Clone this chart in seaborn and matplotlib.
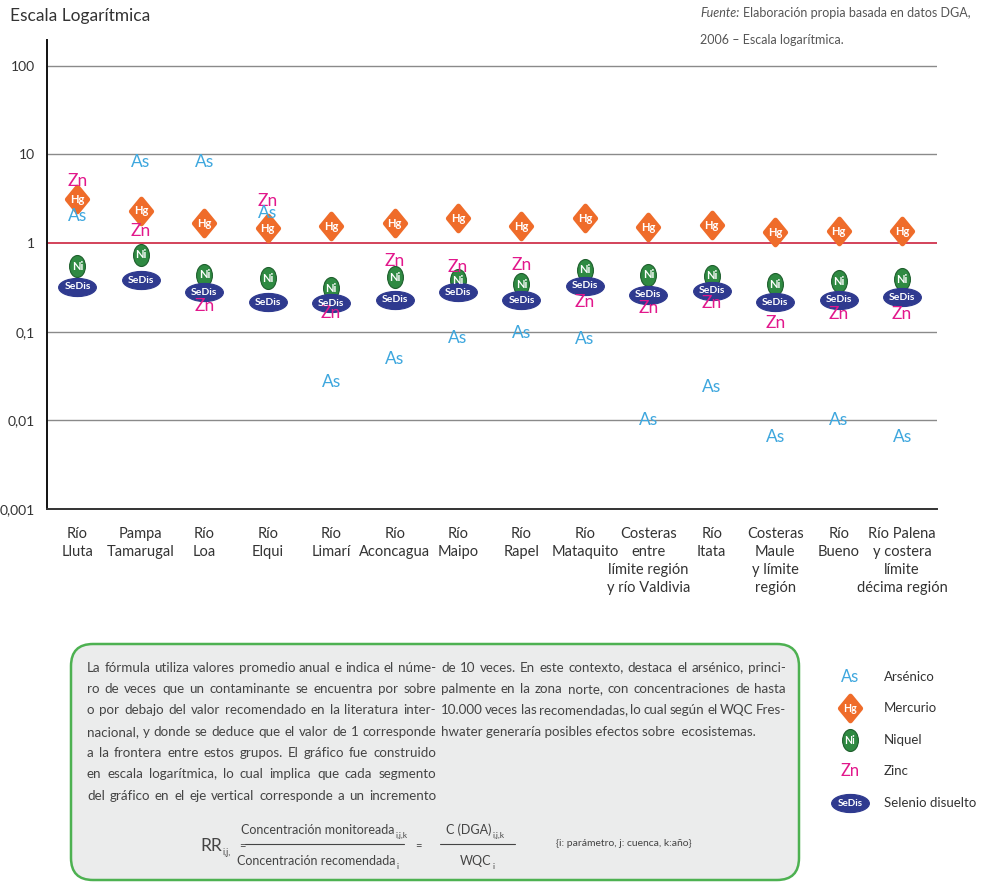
import numpy as np
import pandas as pd
import matplotlib
matplotlib.use("Agg")
import matplotlib.pyplot as plt
import seaborn as sns
from matplotlib.path import Path
from matplotlib.patches import FancyBboxPatch
from matplotlib.font_manager import FontProperties

# ---- data -------------------------------------------------------------
rios = ["Río\nLluta", "Pampa\nTamarugal", "Río\nLoa", "Río\nElqui", "Río\nLimarí",
        "Río\nAconcagua", "Río\nMaipo", "Río\nRapel", "Río\nMataquito",
        "Costeras\nentre\nlímite región\ny río Valdivia", "Río\nItata",
        "Costeras\nMaule\ny límite\nregión", "Río\nBueno",
        "Río Palena\ny costera\nlímite\ndécima región"]

arsenico = [2.0, 8.3, 8.3, 2.2, 0.027, 0.049, 0.085, 0.097, 0.083, 0.010, 0.024, 0.0065, 0.010, 0.0065]
mercurio = [3.1, 2.3, 1.68, 1.47, 1.55, 1.68, 1.9, 1.55, 1.9, 1.51, 1.59, 1.33, 1.36, 1.36]
niquel = [0.55, 0.74, 0.44, 0.40, 0.31, 0.41, 0.38, 0.345, 0.50, 0.44, 0.43, 0.345, 0.37, 0.39]
zinc = [5.0, 1.36, 0.195, 3.0, 0.164, 0.63, 0.53, 0.57, 0.215, 0.186, 0.21, 0.125, 0.16, 0.16]
selenio = [0.32, 0.38, 0.28, 0.215, 0.21, 0.23, 0.28, 0.226, 0.33, 0.26, 0.29, 0.215, 0.23, 0.245]

y_ticks = [0.001, 0.01, 0.1, 1, 10, 100]
y_ticklabels = ["0,001", "0,01", "0,1", "1", "10", "100"]

simbolos = ["As", "Hg", "Ni", "Zn", "SeDis"]
nombres = ["Arsénico", "Mercurio", "Niquel", "Zinc", "Selenio disuelto"]

# ---- styling ------------------------------------------------------------
sns.set_style("white")
FONT = "Lato"
plt.rcParams["font.family"] = [FONT, "DejaVu Sans"]

C_AS = "#3ea7de"
C_HG = "#ef6c2a"
C_NI = "#2f8a42"
C_ZN = "#e2188c"
C_SE = "#2f3a8f"
TXT = "#333333"


def ellipse(w, h):
    c = Path.unit_circle()
    return Path(c.vertices * np.array([w, h]), c.codes)


diamond = Path([(0, 1), (0.82, 0), (0, -1), (-0.82, 0), (0, 1)],
               [Path.MOVETO, Path.LINETO, Path.LINETO, Path.LINETO, Path.CLOSEPOLY])
ni_shape = ellipse(0.72, 1.0)
se_shape = ellipse(1.0, 0.48)

W, H = 982, 884
fig = plt.figure(figsize=(W / 100, H / 100), dpi=100)
ax = fig.add_axes([47 / W, 1 - 509 / H, (937 - 47) / W, (509 - 40) / H])
renderer = fig.canvas.get_renderer()


def text_width(s, size, style="normal"):
    fp = FontProperties(family=[FONT, "DejaVu Sans"], size=size, style=style)
    w, _, _ = renderer.get_text_width_height_descent(s, fp, ismath=False)
    return w


pos = np.arange(len(rios))
df = pd.DataFrame({
    "pos": np.tile(pos, 5),
    "elemento": np.repeat(simbolos, len(rios)),
    "valor": arsenico + mercurio + niquel + zinc + selenio,
})

ax.set_yscale("log")
ax.set_ylim(0.001, 195)
ax.set_xlim(-0.48, 13.55)

# reference lines
for t in [0.01, 0.1, 10, 100]:
    ax.axhline(t, color="#8a8a8a", lw=1.0, zorder=1)
ax.axhline(1, color="#c8102e", lw=1.1, zorder=1)


def draw_label(axis, x, y, sym, size_scale=1.0):
    """Write the element symbol at data position (x, y)."""
    if sym == "As":
        axis.text(x, y, "As", color=C_AS, fontsize=12.5 * size_scale, ha="center", va="center", zorder=6)
    elif sym == "Zn":
        axis.text(x, y, "Zn", color=C_ZN, fontsize=12.5 * size_scale, ha="center", va="center", zorder=5)
    elif sym == "Hg":
        axis.text(x, y, "Hg", color="white", fontsize=8 * size_scale, fontweight="bold",
                  ha="center", va="center", zorder=5)
    elif sym == "Ni":
        axis.text(x, y, "Ni", color="white", fontsize=8 * size_scale, fontweight="bold",
                  ha="center", va="center", zorder=5)
    elif sym == "SeDis":
        axis.text(x, y, "SeDis", color="white", fontsize=7.5 * size_scale, fontweight="bold",
                  ha="center", va="center", zorder=5)


# filled shapes through seaborn
shape_spec = {
    "Hg": dict(marker=diamond, s=320, color=C_HG, edgecolor=C_HG, linewidth=3.5, zorder=4),
    "Ni": dict(marker=ni_shape, s=250, color=C_NI, edgecolor="#1d5e2c", linewidth=0.8, zorder=4),
    "SeDis": dict(marker=se_shape, s=740, color=C_SE, edgecolor=C_SE, linewidth=0.8, zorder=4),
}
for sym, spec in shape_spec.items():
    sub = df[df["elemento"] == sym]
    sns.scatterplot(data=sub, x="pos", y="valor", ax=ax, legend=False, **spec)

for _, r in df.iterrows():
    draw_label(ax, r["pos"], r["valor"], r["elemento"])

# axes decoration
ax.set_yticks(y_ticks)
ax.set_yticklabels(y_ticklabels)
ax.yaxis.set_minor_locator(matplotlib.ticker.NullLocator())
ax.set_xticks(pos)
ax.set_xticklabels(rios, linespacing=1.35)
ax.tick_params(axis="y", length=0, pad=9, labelsize=10, labelcolor=TXT)
ax.tick_params(axis="x", length=0, pad=13, labelsize=10.5, labelcolor=TXT)
ax.set_xlabel("")
ax.set_ylabel("")
for side in ["top", "right"]:
    ax.spines[side].set_visible(False)
ax.spines["left"].set_color("#111111")
ax.spines["left"].set_linewidth(1.4)
ax.spines["bottom"].set_color("#333333")
ax.spines["bottom"].set_linewidth(1.4)

# overlay in pixel coordinates for headings, the note box and the key
ov = fig.add_axes([0, 0, 1, 1])
ov.set_xlim(0, W)
ov.set_ylim(H, 0)
ov.axis("off")
ov.patch.set_alpha(0)

ov.text(10, 16, "Escala Logarítmica", fontsize=12.5, color=TXT, ha="left", va="center")
SRC = dict(fontsize=9, color="#555555", ha="left", va="baseline")
ov.text(700, 17, "Fuente:", style="italic", **SRC)
ov.text(700 + text_width("Fuente:", 9, "italic") + 4, 17,
        "Elaboración propia basada en datos DGA,", **SRC)
ov.text(700, 44, "2006 – Escala logarítmica.", **SRC)

box = FancyBboxPatch((71, 644), 728, 236, boxstyle="round,pad=0,rounding_size=22",
                     facecolor="#ebecec", edgecolor="#4db151", linewidth=1.8, zorder=1)
ov.add_patch(box)

left_col = [
    "La fórmula utiliza valores promedio anual e indica el núme-",
    "ro de veces que un contaminante se encuentra por sobre",
    "o por debajo del valor recomendado en la literatura inter-",
    "nacional, y donde se deduce que el valor de 1 corresponde",
    "a la frontera entre estos grupos. El gráfico fue construido",
    "en escala logarítmica, lo cual implica que cada segmento",
    "del gráfico en el eje vertical corresponde a un incremento",
]
right_col = [
    "de 10 veces. En este contexto, destaca el arsénico, princi-",
    "palmente en la zona norte, con concentraciones de hasta",
    "10.000 veces las recomendadas, lo cual según el WQC Fres-",
    "hwater generaría posibles efectos sobre  ecosistemas.",
]

BODY_SIZE = 9.6
BODY = dict(fontsize=BODY_SIZE, color="#444444", va="baseline", ha="left", zorder=2)


def justified(x0, x1, y, line, last=False):
    words = line.split()
    base = y + 4.5
    if last or len(words) == 1:
        ov.text(x0, base, line, **BODY)
        return
    widths = [text_width(w, BODY_SIZE) for w in words]
    gap = (x1 - x0 - sum(widths)) / (len(words) - 1)
    x = x0
    for w, wd in zip(words, widths):
        ov.text(x, base, w, **BODY)
        x += wd + gap


for i, line in enumerate(left_col):
    justified(87, 436, 667 + i * 21.4, line)
for i, line in enumerate(right_col):
    justified(441, 786, 667 + i * 21.4, line, last=(i == len(right_col) - 1))


# formula: main text plus a lowered small index
def with_index(x, y, main, idx, size, sub_size, align="left"):
    wm = text_width(main, size)
    wi = text_width(idx, sub_size)
    if align == "center":
        x = x - (wm + 1 + wi) / 2
    ov.text(x, y, main, fontsize=size, color=fc, ha="left", va="baseline", zorder=2)
    ov.text(x + wm + 1, y + 4, idx, fontsize=sub_size, color=fc, ha="left", va="baseline", zorder=2)


fc = "#444444"
with_index(200, 851, "RR", "i,j,", 12.5, 6.5)
ov.text(239, 849, "=", fontsize=8, color=fc, ha="left", va="baseline", zorder=2)
with_index(324, 834, "Concentración monitoreada", "i,j,k", 9, 6, align="center")
ov.plot([245, 404], [844, 844], color=fc, lw=0.8, zorder=2)
with_index(318, 865, "Concentración recomendada", "i", 9, 6, align="center")
ov.text(415, 849, "=", fontsize=8, color=fc, ha="left", va="baseline", zorder=2)
with_index(475, 834, "C (DGA)", "i,j,k", 9, 6, align="center")
ov.plot([440, 515], [844, 844], color=fc, lw=0.8, zorder=2)
with_index(477, 865, "WQC", "i", 9, 6, align="center")
ov.text(556, 843, "{i: parámetro, j: cuenca, k:año}", fontsize=7.5, color=fc, ha="left", va="center", zorder=2)

# key
key_y = [677, 708, 740, 771, 803]
key = pd.DataFrame({"x": [850] * 5, "y": key_y, "elemento": simbolos, "nombre": nombres})
for sym, spec in shape_spec.items():
    sub = key[key["elemento"] == sym]
    sns.scatterplot(data=sub, x="x", y="y", ax=ov, legend=False, **spec)
for _, r in key.iterrows():
    draw_label(ov, r["x"], r["y"], r["elemento"], size_scale=0.95)
    ov.text(884, r["y"], r["nombre"], fontsize=9.5, color="#333333", ha="left", va="center")
ov.set_xlim(0, W)
ov.set_ylim(H, 0)
ov.axis("off")
ov.set_xlabel("")
ov.set_ylabel("")

fig.savefig("out.png", dpi=100)
